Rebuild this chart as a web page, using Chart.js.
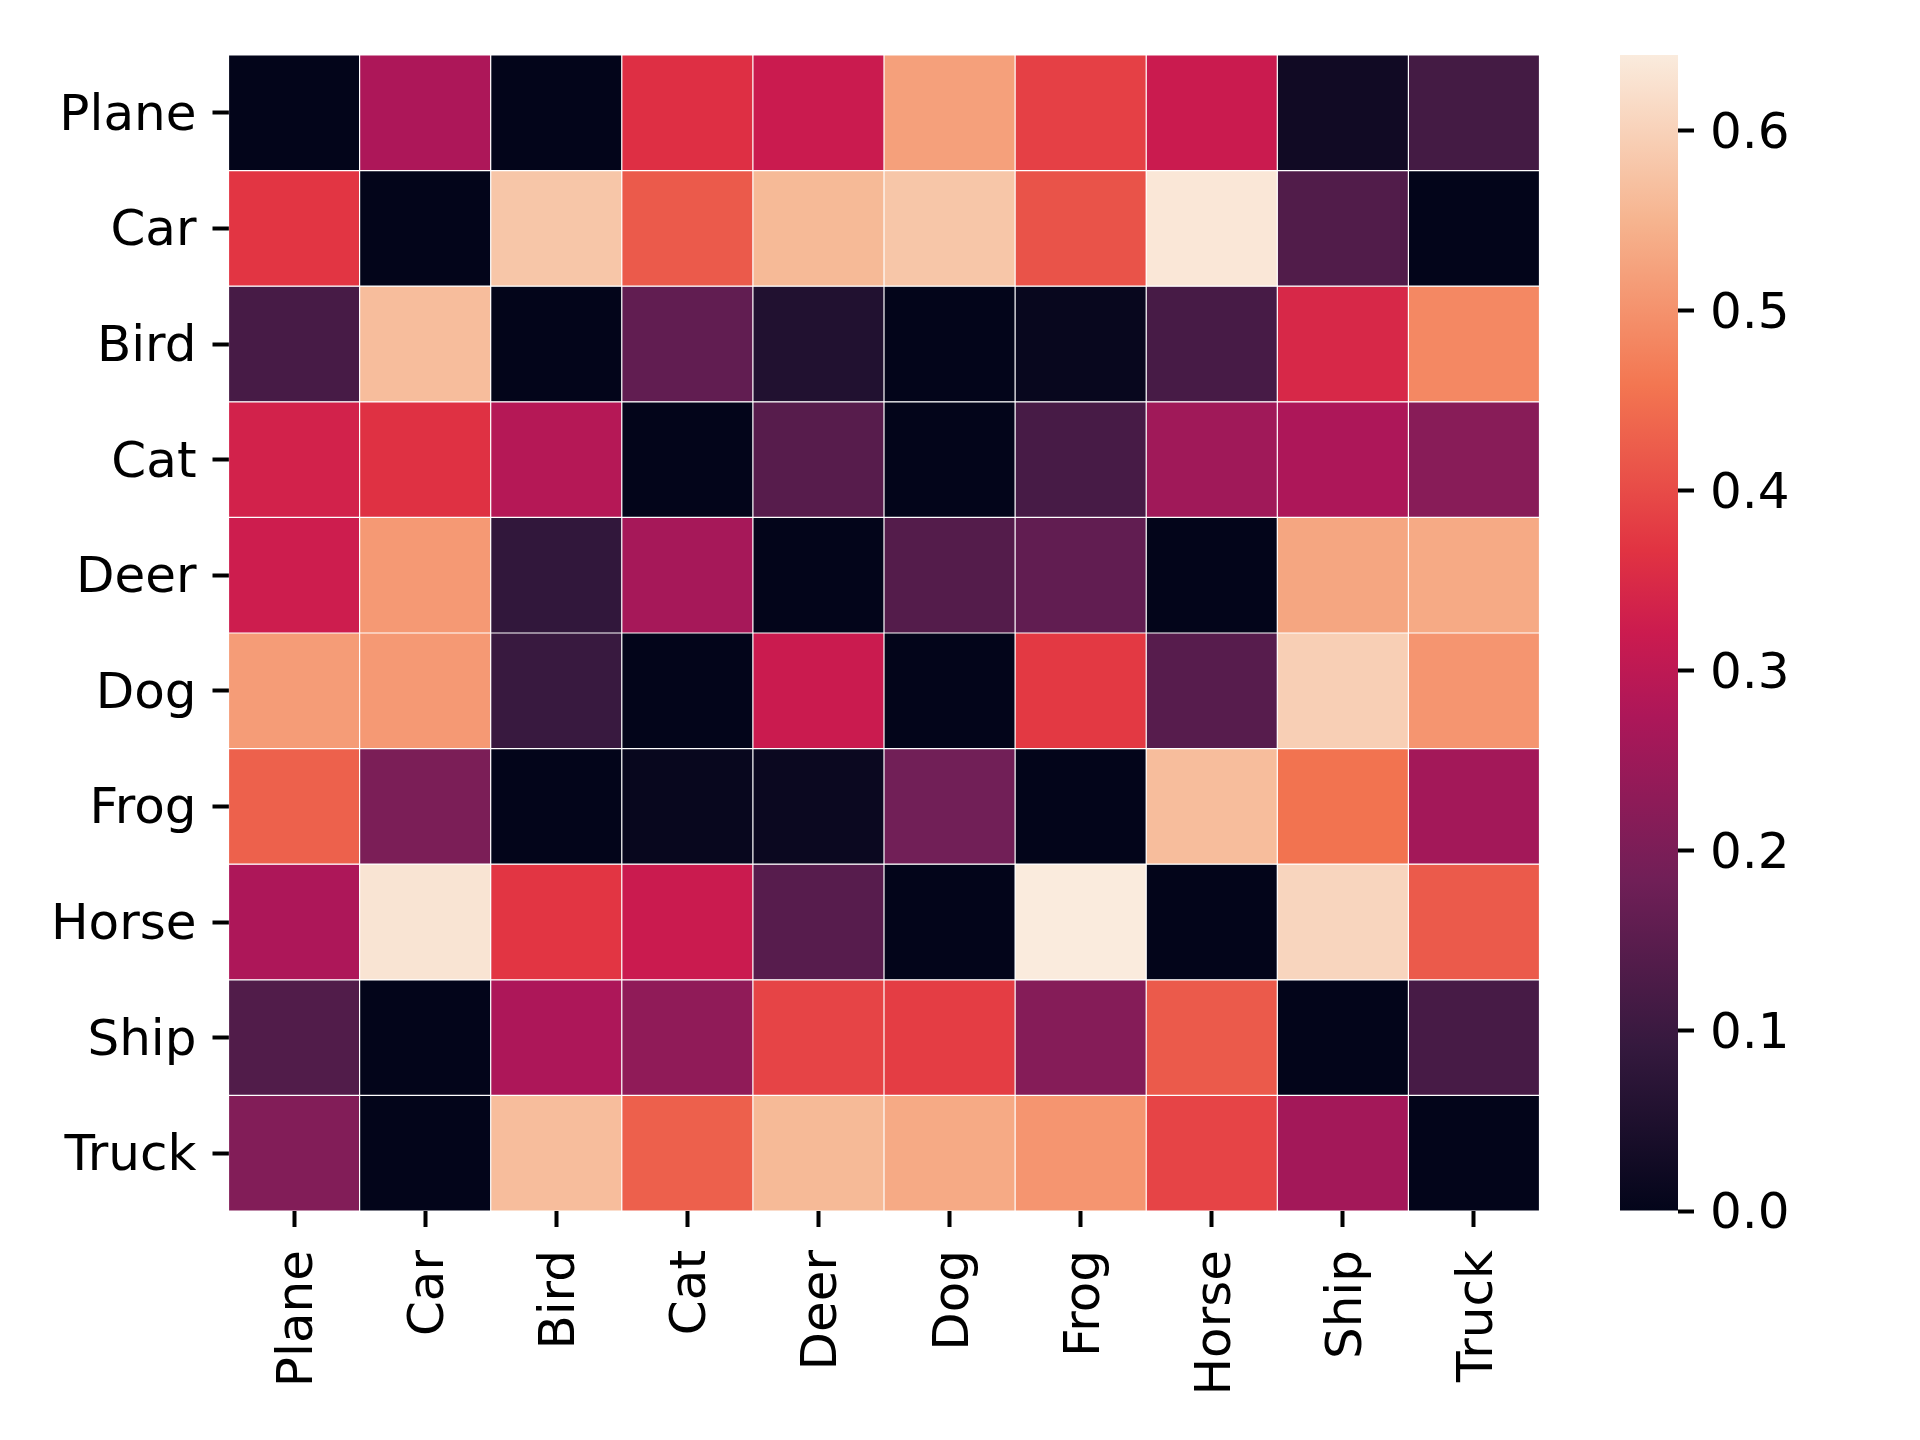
<!DOCTYPE html>
<html>
<head>
<meta charset="utf-8">
<script src="https://cdn.jsdelivr.net/npm/chart.js@4.4.0/dist/chart.umd.min.js"></script>
<style>
  html, body { margin: 0; padding: 0; background: #fff; }
  #wrap { position: relative; width: 1920px; height: 1440px; }
  #heat { position: absolute; left: 0; top: 0; }
  #cbar { position: absolute; left: 1600px; top: 0; }
</style>
</head>
<body>
<div id="wrap">
  <canvas id="heat" width="1920" height="1440"></canvas>
  <canvas id="cbar" width="320" height="1440"></canvas>
</div>
<script>
// class names (rows and columns)
var classes = ['Plane', 'Car', 'Bird', 'Cat', 'Deer', 'Dog', 'Frog', 'Horse', 'Ship', 'Truck'];

// one row per class
var planeRow = [0.00, 0.275, 0.00, 0.36, 0.32, 0.52, 0.385, 0.32, 0.025, 0.115];
var carRow   = [0.37, 0.00, 0.58, 0.42, 0.56, 0.58, 0.41, 0.635, 0.135, 0.00];
var birdRow  = [0.12, 0.565, 0.00, 0.16, 0.055, 0.00, 0.01, 0.12, 0.345, 0.485];
var catRow   = [0.335, 0.363, 0.287, 0.00, 0.144, 0.00, 0.12, 0.255, 0.275, 0.22];
var deerRow  = [0.325, 0.51, 0.084, 0.265, 0.00, 0.14, 0.16, 0.00, 0.53, 0.535];
var dogRow   = [0.515, 0.51, 0.096, 0.00, 0.32, 0.00, 0.375, 0.145, 0.595, 0.505];
var frogRow  = [0.43, 0.20, 0.00, 0.01, 0.015, 0.185, 0.00, 0.565, 0.455, 0.26];
var horseRow = [0.275, 0.63, 0.37, 0.32, 0.145, 0.00, 0.642, 0.00, 0.605, 0.42];
var shipRow  = [0.135, 0.00, 0.275, 0.232, 0.39, 0.38, 0.215, 0.42, 0.00, 0.12];
var truckRow = [0.21, 0.00, 0.565, 0.428, 0.56, 0.535, 0.505, 0.39, 0.26, 0.00];

var matrix = [planeRow, carRow, birdRow, catRow, deerRow, dogRow, frogRow, horseRow, shipRow, truckRow];

// colour bar ticks
var cbarTicks = [0.0, 0.1, 0.2, 0.3, 0.4, 0.5, 0.6];

var all = [].concat.apply([], matrix);
var vmin = Math.min.apply(null, all);
var vmax = Math.max.apply(null, all);

// seaborn "rocket" approximated by a few stops
var rocketPos = [0, 1 / 7, 2 / 7, 3 / 7, 0.5, 4 / 7, 5 / 7, 6 / 7, 1];
var rocketHex = ['#03051a', '#35193e', '#701f57', '#ad1759', '#cb1b4f', '#e13342', '#f37651', '#f6b48f', '#faebdd'];

function hexToRgb(h) {
  return [parseInt(h.slice(1, 3), 16), parseInt(h.slice(3, 5), 16), parseInt(h.slice(5, 7), 16)];
}

function rocket(t) {
  t = Math.max(0, Math.min(1, t));
  var i = 0;
  while (i < rocketPos.length - 2 && t > rocketPos[i + 1]) i++;
  var f = (t - rocketPos[i]) / (rocketPos[i + 1] - rocketPos[i]);
  var a = hexToRgb(rocketHex[i]), b = hexToRgb(rocketHex[i + 1]);
  var c = a.map(function (v, k) { return Math.round(v + (b[k] - v) * f); });
  return 'rgb(' + c.join(',') + ')';
}

var font = { family: 'DejaVu Sans', size: 50 };

Chart.defaults.font.family = 'DejaVu Sans';
Chart.defaults.color = '#000';

// heat map: one floating-bar dataset per row
var datasets = matrix.map(function (row, r) {
  return {
    label: classes[r],
    data: row.map(function () { return [r, r + 1]; }),
    backgroundColor: row.map(function (v) { return rocket((v - vmin) / (vmax - vmin)); }),
    borderColor: '#ffffff',
    borderWidth: 0.6,
    borderSkipped: false,
    inflateAmount: 0,
    categoryPercentage: 1.0,
    barPercentage: 1.0,
    grouped: false
  };
});

new Chart(document.getElementById('heat'), {
  type: 'bar',
  data: { labels: classes, datasets: datasets },
  options: {
    responsive: false,
    devicePixelRatio: 1,
    animation: false,
    layout: { padding: { top: 55, right: 380.5, left: 0, bottom: 0 } },
    plugins: { legend: { display: false }, tooltip: { enabled: false } },
    scales: {
      x: {
        type: 'category',
        offset: true,
        grid: { drawOnChartArea: false, offset: false, tickLength: 16, tickWidth: 4, tickColor: '#000' },
        border: { display: false },
        ticks: { font: font, color: '#000', maxRotation: 90, minRotation: 90, autoSkip: false, padding: 23, labelOffset: 5 },
        afterFit: function (s) { s.height = 229; }
      },
      y: {
        type: 'linear',
        min: 0,
        max: classes.length,
        reverse: true,
        grid: { drawOnChartArea: false, tickLength: 16, tickWidth: 4, tickColor: '#000' },
        border: { display: false },
        afterBuildTicks: function (s) {
          s.ticks = classes.map(function (c, i) { return { value: i + 0.5 }; });
        },
        ticks: {
          font: font,
          color: '#000',
          padding: 16,
          labelOffset: 4,
          callback: function (v) { return classes[Math.floor(v)]; }
        },
        afterFit: function (s) { s.width = 228.5; }
      }
    }
  }
});

// colour bar: one floating bar filled with the colormap
new Chart(document.getElementById('cbar'), {
  type: 'bar',
  data: {
    labels: [''],
    datasets: [{
      data: [[vmin, vmax]],
      backgroundColor: function (ctx) {
        var area = ctx.chart.chartArea;
        if (!area) return rocketHex[0];
        var g = ctx.chart.ctx.createLinearGradient(0, area.bottom, 0, area.top);
        rocketHex.forEach(function (c, i) { g.addColorStop(rocketPos[i], c); });
        return g;
      },
      borderWidth: 0,
      inflateAmount: 0,
      categoryPercentage: 1.0,
      barPercentage: 1.0
    }]
  },
  options: {
    responsive: false,
    devicePixelRatio: 1,
    animation: false,
    layout: { padding: { top: 55, left: 20, right: 0, bottom: 229 } },
    plugins: { legend: { display: false }, tooltip: { enabled: false } },
    scales: {
      x: { display: false },
      y: {
        position: 'right',
        min: vmin,
        max: vmax,
        grid: { drawOnChartArea: false, tickLength: 16, tickWidth: 4, tickColor: '#000' },
        border: { display: false },
        afterBuildTicks: function (s) {
          s.ticks = cbarTicks.map(function (v) { return { value: v }; });
        },
        ticks: {
          font: font,
          color: '#000',
          padding: 16,
          labelOffset: 4,
          callback: function (v) { return v.toFixed(1); }
        },
        afterFit: function (s) { s.width = 242; }
      }
    }
  }
});
</script>
</body>
</html>
